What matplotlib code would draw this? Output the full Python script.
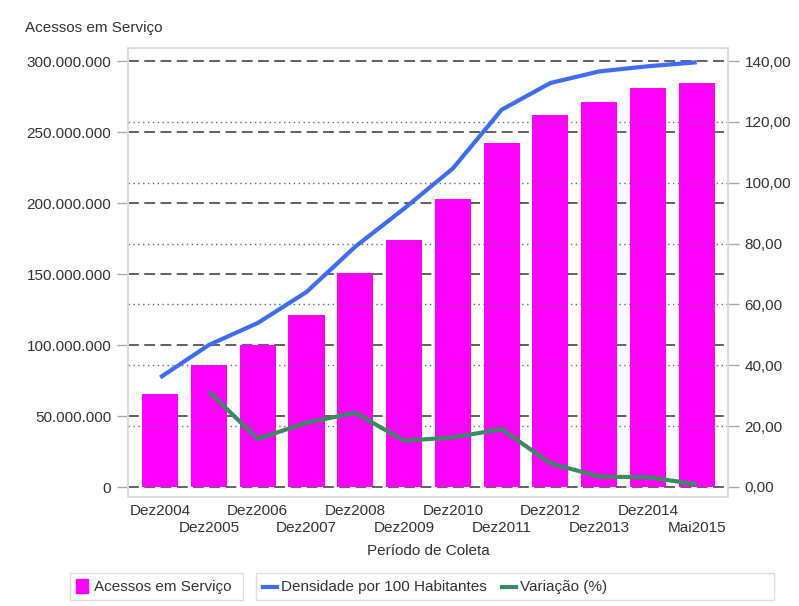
import matplotlib
matplotlib.use("Agg")
import matplotlib.pyplot as plt
from matplotlib.patches import Rectangle
from matplotlib.lines import Line2D
from matplotlib.ticker import FuncFormatter, FixedLocator, FixedFormatter

plt.rcParams['font.family'] = ['Liberation Sans', 'DejaVu Sans']

# Dados
periodos = ['Dez2004', 'Dez2005', 'Dez2006', 'Dez2007', 'Dez2008', 'Dez2009',
            'Dez2010', 'Dez2011', 'Dez2012', 'Dez2013', 'Dez2014', 'Mai2015']
acessos = [65.6e6, 86.2e6, 99.9e6, 121.0e6, 150.6e6, 174.0e6,
           202.9e6, 242.2e6, 261.8e6, 271.1e6, 280.7e6, 284.2e6]
densidade = [36.0, 46.7, 53.9, 64.1, 79.0, 91.5,
             104.7, 124.0, 132.8, 136.6, 138.3, 139.6]
variacao = [None, 31.3, 15.8, 21.1, 24.4, 15.2,
            16.3, 19.0, 7.8, 3.4, 3.2, 0.9]

MAGENTA = '#FF00FF'
AZUL = '#3F6BF5'
VERDE = '#3A8A62'
TXT = '#333333'
FS = 11

fig = plt.figure(figsize=(7.99, 6.06), dpi=100)
ax = fig.add_axes([0.1602, 0.1799, 0.7509, 0.7409])
ax2 = ax.twinx()

x = list(range(len(periodos)))
ax.bar(x, acessos, width=0.74, color=MAGENTA, zorder=2)
ax.set_ylim(-7e6, 309.2e6)
ax.set_xlim(-0.66, 11.64)
ax.set_yticks([0, 50e6, 100e6, 150e6, 200e6, 250e6, 300e6])
ax.yaxis.set_major_formatter(FuncFormatter(lambda v, p: f"{int(v):,}".replace(',', '.')))

# linhas de grade: tracejadas no eixo esquerdo, pontilhadas no direito
for v in ax.get_yticks():
    ax.axhline(v, color='#555555', lw=1.3, ls=(0, (6, 3)), zorder=1)
for v in [20, 40, 60, 80, 100, 120]:
    ax2.axhline(v, color='#666666', lw=1.0, ls=(0, (1, 2.5)), zorder=0)

ax2.set_ylim(-3.29, 144.3)
ax2.set_yticks([0, 20, 40, 60, 80, 100, 120, 140])
ax2.yaxis.set_major_formatter(FuncFormatter(lambda v, p: f"{v:.2f}".replace('.', ',')))

xv = [i for i, v in enumerate(variacao) if v is not None]
vv = [v for v in variacao if v is not None]
ax2.plot(x, densidade, color=AZUL, lw=3.0, zorder=5, solid_capstyle='butt')
ax2.plot(xv, vv, color=VERDE, lw=3.0, zorder=5, solid_capstyle='butt')

ax.set_zorder(1)
ax2.set_zorder(2)
ax2.patch.set_visible(False)
ax.patch.set_visible(False)

for a in (ax, ax2):
    for s in a.spines.values():
        s.set_color('#DDDDDD')
        s.set_linewidth(1.2)
    a.tick_params(axis='y', colors='#AAAAAA', length=8, width=1.0,
                  labelsize=FS, labelcolor=TXT, pad=4)

# rótulos do eixo x alternados em duas linhas (pares em cima, ímpares embaixo)
ax.xaxis.set_major_locator(FixedLocator(x[0::2]))
ax.xaxis.set_major_formatter(FixedFormatter(periodos[0::2]))
ax.xaxis.set_minor_locator(FixedLocator(x[1::2]))
ax.xaxis.set_minor_formatter(FixedFormatter(periodos[1::2]))
ax.tick_params(axis='x', which='major', length=0, labelsize=FS, labelcolor=TXT, pad=5)
ax.tick_params(axis='x', which='minor', length=0, labelsize=FS, labelcolor=TXT, pad=17)
ax.set_xlabel('Período de Coleta', fontsize=FS, color=TXT, labelpad=7)

fig.text(25 / 799, 1 - 28 / 606, 'Acessos em Serviço', fontsize=FS, color=TXT,
         ha='left', va='center')

# legenda em duas caixas
W, H = 799, 606
def caixa(x0, x1, y0, y1):
    fig.patches.append(Rectangle((x0 / W, 1 - y1 / H), (x1 - x0) / W, (y1 - y0) / H,
                                 transform=fig.transFigure, fill=False,
                                 edgecolor='#DDDDDD', lw=1.0))

caixa(70, 243, 573, 600)
caixa(256, 774, 573, 600)

yc = 1 - 586.5 / H
fig.patches.append(Rectangle((76 / W, 1 - 593 / H), 12 / W, 14 / H,
                             transform=fig.transFigure, color=MAGENTA))
fig.text(94 / W, yc, 'Acessos em Serviço', fontsize=FS, color=TXT, va='center')

fig.lines.append(Line2D([263 / W, 277 / W], [yc, yc], transform=fig.transFigure,
                        color=AZUL, lw=3.0))
fig.text(281 / W, yc, 'Densidade por 100 Habitantes', fontsize=FS, color=TXT, va='center')
fig.lines.append(Line2D([502 / W, 516 / W], [yc, yc], transform=fig.transFigure,
                        color=VERDE, lw=3.0))
fig.text(520 / W, yc, 'Variação (%)', fontsize=FS, color=TXT, va='center')

fig.savefig('out.png', dpi=100)
